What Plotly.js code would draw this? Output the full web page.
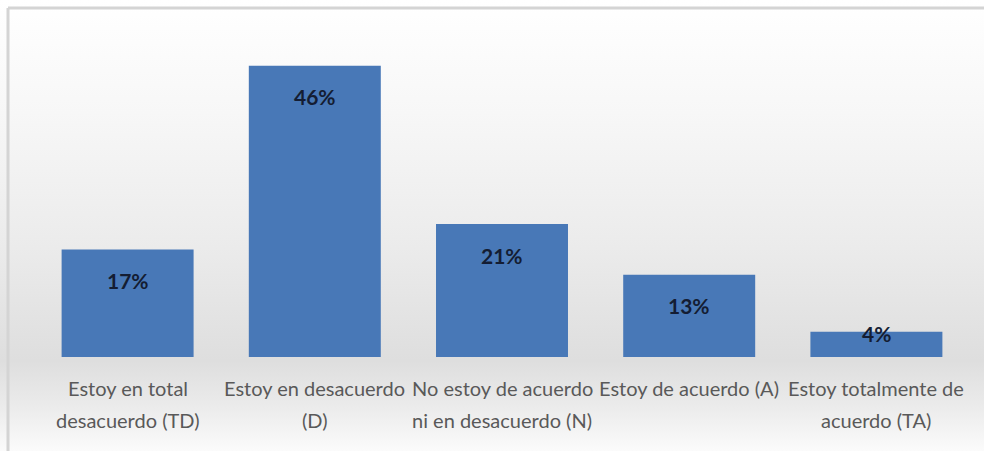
<!DOCTYPE html>
<html>
<head>
<meta charset="utf-8">
<script src="https://cdn.plot.ly/plotly-3.0.1.min.js"></script>
<style>html,body{margin:0;padding:0;background:#fff;}#chart{width:984px;height:451px;}</style>
</head>
<body>
<div id="chart"></div>
<script>
const categories = ["TD", "D", "N", "A", "TA"];
const tickLine1 = ["Estoy en total", "Estoy en desacuerdo", "No estoy de acuerdo", "Estoy de acuerdo (A)", "Estoy totalmente de"];
const tickLine2 = ["desacuerdo (TD)", "(D)", "ni en desacuerdo (N)", "", "acuerdo (TA)"];
const values = [17, 46, 21, 13, 4];
const valueLabels = ["17%", "46%", "21%", "13%", "4%"];

const W = 984, H = 451, mL = 34, mR = 14, mT = 20, mB = 94;
const pw = W - mL - mR, ph = H - mT - mB;

const bgSvg = '<svg xmlns="http://www.w3.org/2000/svg" width="984" height="451" preserveAspectRatio="none">' +
  '<defs><linearGradient id="g" x1="0" y1="0" x2="0" y2="1">' +
  '<stop offset="0" stop-color="#ffffff"/>' +
  '<stop offset="0.25" stop-color="#f7f7f7"/>' +
  '<stop offset="0.55" stop-color="#ebebeb"/>' +
  '<stop offset="0.8" stop-color="#dedede"/>' +
  '<stop offset="0.9" stop-color="#ebebeb"/>' +
  '<stop offset="1" stop-color="#fbfbfb"/>' +
  '</linearGradient></defs><rect width="984" height="451" fill="url(#g)"/></svg>';
const bgSrc = 'data:image/svg+xml;charset=utf-8,' + encodeURIComponent(bgSvg);

const trace = {
  type: 'bar',
  x: categories,
  y: values,
  marker: {color: '#4878b7', line: {width: 0}},
  hoverinfo: 'skip'
};

const labelFont = {family: 'Lato, "Open Sans", sans-serif', size: 20, color: '#595959'};
const annotations = [];
values.forEach((v, i) => {
  annotations.push({
    x: categories[i], y: v, xref: 'x', yref: 'y',
    text: '<b>' + valueLabels[i] + '</b>',
    showarrow: false, yanchor: 'middle',
    yshift: v < 6 ? -2 : -31,
    font: {family: 'Lato, "Open Sans", sans-serif', size: 21, color: '#141d33'}
  });
  annotations.push({
    x: categories[i], y: 0, xref: 'x', yref: 'paper',
    text: tickLine1[i], showarrow: false, yanchor: 'middle', yshift: -31, font: labelFont
  });
  if (tickLine2[i]) annotations.push({
    x: categories[i], y: 0, xref: 'x', yref: 'paper',
    text: tickLine2[i], showarrow: false, yanchor: 'middle', yshift: -63, font: labelFont
  });
});

const px2x = p => (p - mL) / pw;
const py2y = p => 1 - (p - mT) / ph;

const layout = {
  width: W, height: H,
  margin: {l: mL, r: mR, t: mT, b: mB, pad: 0},
  paper_bgcolor: '#ffffff',
  plot_bgcolor: 'rgba(0,0,0,0)',
  showlegend: false,
  bargap: 0.295,
  xaxis: {
    type: 'category',
    showticklabels: false,
    showline: false, showgrid: false, zeroline: false, ticks: ''
  },
  yaxis: {
    range: [0, ph / 6.33],
    showticklabels: false, showgrid: false, zeroline: false, showline: false, ticks: ''
  },
  images: [{
    source: bgSrc, xref: 'paper', yref: 'paper',
    x: px2x(0), y: py2y(0), sizex: W / pw, sizey: H / ph,
    xanchor: 'left', yanchor: 'top', sizing: 'stretch', layer: 'below'
  }],
  shapes: [
    {type: 'line', xref: 'paper', yref: 'paper', x0: px2x(8), x1: px2x(984), y0: py2y(8), y1: py2y(8), line: {color: '#d4d4d4', width: 3}},
    {type: 'line', xref: 'paper', yref: 'paper', x0: px2x(8), x1: px2x(8), y0: py2y(8), y1: py2y(451), line: {color: '#d4d4d4', width: 3}}
  ],
  annotations: annotations
};

Plotly.newPlot('chart', [trace], layout, {displayModeBar: false, staticPlot: true});
</script>
</body>
</html>
